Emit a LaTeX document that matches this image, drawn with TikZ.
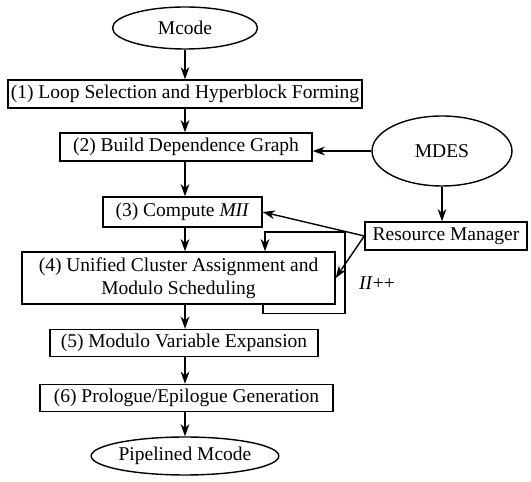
\documentclass[tikz,border=0pt]{standalone}
\usepackage{fontspec}
\setmainfont{Liberation Serif}
\usetikzlibrary{shapes.geometric,arrows.meta}

\begin{document}
\begin{tikzpicture}[x=0.02cm,y=-0.02cm,line width=0.8pt,
  font=\fontsize{11.1}{13.2}\selectfont,
  stage/.style={draw,rectangle,inner sep=0pt,minimum height=0.56cm},
  io/.style={draw,ellipse,inner sep=0pt},
  flow/.style={-{Stealth[length=7pt,width=5pt]}}]
\useasboundingbox (0,0) rectangle (531,482);

% main column
\coordinate (axis) at (185,0);
\node[io,minimum width=2.9cm,minimum height=0.84cm] (mcode) at (185,28) {Mcode};
\node[stage,minimum width=7.08cm] (loop) at (185,94) {(1) Loop Selection and Hyperblock Forming};
\node[stage,minimum width=5.04cm] (graph) at (186,147) {(2) Build Dependence Graph};
\node[stage,minimum width=3.18cm,minimum height=0.6cm] (mii) at (182.5,212) {(3) Compute \textit{MII}};
\node[stage,minimum width=6.26cm,minimum height=1.04cm,align=center] (sched) at (178.5,278)
  {(4) Unified Cluster Assignment and\\Modulo Scheduling};
\node[stage,minimum width=5.36cm,minimum height=0.54cm] (expand) at (184,343) {(5) Modulo Variable Expansion};
\node[stage,minimum width=5.86cm,minimum height=0.54cm] (prolog) at (186.5,398) {(6) Prologue/Epilogue Generation};
\node[io,minimum width=3.28cm,minimum height=0.76cm] (pipe) at (185,456) {Pipelined Mcode};

% machine description side
\node[io,minimum width=2.8cm,minimum height=1.4cm] (mdes) at (442,151) {MDES};
\node[stage,minimum width=3.24cm] (rm) at (446,236) {Resource Manager};
\node (inc) at (377,283) {\textit{II}++};

\foreach \a/\b in {mcode/loop,loop/graph,graph/mii,mii/sched,sched/expand,expand/prolog,prolog/pipe}
  \draw[flow] (\a.south -| axis) -- (\b.north -| axis);

\draw[flow] (mdes.west) -- (mdes.west -| graph.east);
\draw[flow] (mdes.south) -- (mdes.south |- rm.north);
\draw[flow] (rm.west) -- (mii.east);
\draw[flow] (rm.west) -- (sched.east);

% retry with a larger II
\draw[flow] (sched.south -| 263,0) -- ++(0,9) -| (345,232) -| (sched.north -| 265,0);
\end{tikzpicture}
\end{document}
